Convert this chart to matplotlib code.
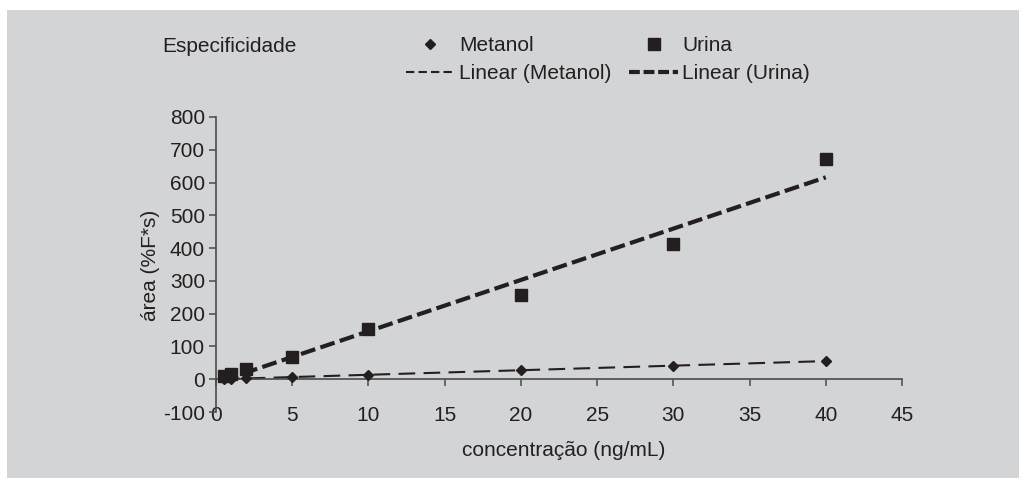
import matplotlib.pyplot as plt
from matplotlib.patches import Rectangle
from matplotlib.lines import Line2D
import numpy as np

plt.rcParams['font.family'] = ['Liberation Sans', 'DejaVu Sans']
plt.rcParams['axes.unicode_minus'] = False

# concentrações (ng/mL) e áreas medidas
conc = [0.5, 1, 2, 5, 10, 20, 30, 40]
area_metanol = [0, 1, 3, 6, 14, 28, 40, 56]
area_urina = [9, 15, 30, 68, 153, 257, 412, 672]

xticks = [0, 5, 10, 15, 20, 25, 30, 35, 40, 45]
yticks = [-100, 0, 100, 200, 300, 400, 500, 600, 700, 800]

bg = '#d3d4d6'
ink = '#231f20'
axis_col = '#4a4a4a'
fs = 15

fig = plt.figure(figsize=(10.19, 4.78), dpi=100, facecolor='white')
fig.patches.append(Rectangle((7 / 1019, 0), 1, 1 - 10 / 478, transform=fig.transFigure,
                             facecolor=bg, edgecolor='none', zorder=-10))

ax = fig.add_axes([216 / 1019, 1 - 412 / 478, (902 - 216) / 1019, (412 - 117) / 478])
ax.set_facecolor('none')

x = np.array(conc)
fit_m = np.polyfit(x, area_metanol, 1)
fit_u = np.polyfit(x, area_urina, 1)

ax.plot(x, area_metanol, linestyle='none', marker='D', markersize=5.5,
        color=ink, zorder=3)
ax.plot(x, np.polyval(fit_m, x), linestyle=(0, (8, 4)), linewidth=1.5,
        color=ink, zorder=2)
ax.plot(x, area_urina, linestyle='none', marker='s', markersize=8.5,
        color=ink, zorder=3)
ax.plot(x, np.polyval(fit_u, x), linestyle=(0, (3.6, 1.3)), linewidth=3.0,
        color=ink, zorder=2)

ax.set_xlim(0, 45)
ax.set_ylim(-100, 800)
ax.set_xticks(xticks)
ax.set_yticks(yticks)

for s in ['top', 'right']:
    ax.spines[s].set_visible(False)
ax.spines['bottom'].set_position(('data', 0))
ax.spines['left'].set_position(('data', 0))
for s in ['bottom', 'left']:
    ax.spines[s].set_color(axis_col)
    ax.spines[s].set_linewidth(1.2)

ax.tick_params(axis='x', direction='out', length=5, width=1.1, color=axis_col,
               labelsize=fs, labelcolor=ink, pad=14.5)
ax.tick_params(axis='y', direction='out', length=5, width=1.1, color=axis_col,
               labelsize=fs, labelcolor=ink, pad=3)

fig.text(150 / 1019, 1 - 265 / 478, 'área (%F*s)', rotation=90, ha='center', va='center',
         fontsize=fs, color=ink)
fig.text(564 / 1019, 1 - 450 / 478, 'concentração (ng/mL)', ha='center', va='center',
         fontsize=fs, color=ink)
fig.text(162 / 1019, 1 - 46 / 478, 'Especificidade', ha='left', va='center',
         fontsize=fs, color=ink)

# legenda: marcadores na primeira linha, tendências na segunda
handles = [
    Line2D([], [], linestyle='none', marker='D', markersize=5.5, color=ink),
    Line2D([], [], linestyle=(0, (4, 2)), linewidth=1.5, color=ink),
    Line2D([], [], linestyle='none', marker='s', markersize=8.5, color=ink),
    Line2D([], [], linestyle=(0, (2.6, 0.9)), linewidth=3.0, color=ink),
]
labels = ['Metanol', 'Linear (Metanol)', 'Urina', 'Linear (Urina)']
fig.legend(handles, labels, loc='upper left', bbox_to_anchor=(406 / 1019, 1 - 36 / 478),
           ncol=2, frameon=False, fontsize=fs, handlelength=2.35, handletextpad=0.2,
           columnspacing=0.85, labelspacing=0.45, borderpad=0, borderaxespad=0,
           labelcolor=ink)

fig.savefig('out.png', dpi=100, facecolor='white')
